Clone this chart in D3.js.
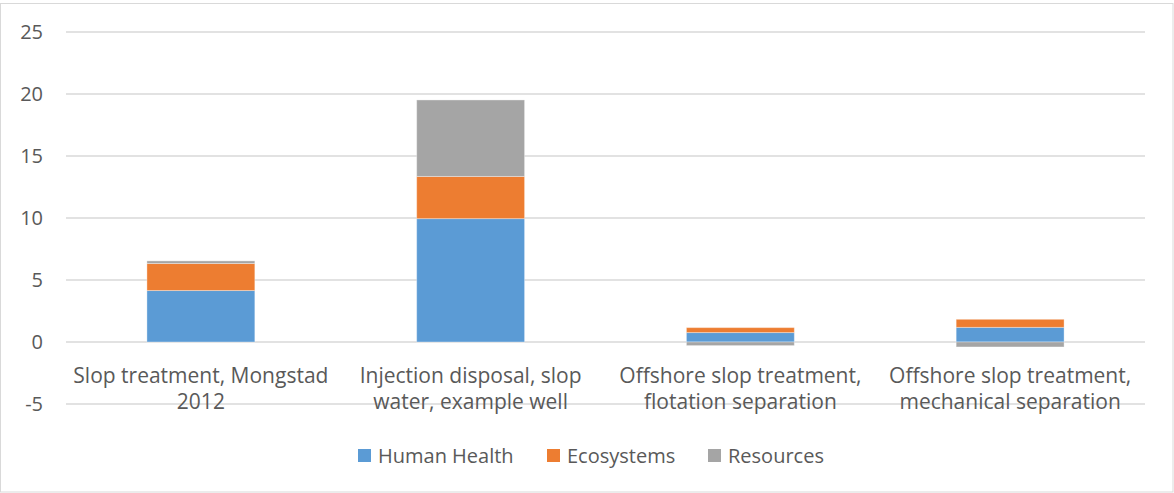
<!DOCTYPE html>
<html>
<head>
<meta charset="utf-8">
<script src="https://cdn.jsdelivr.net/npm/d3@7"></script>
<style>
  html, body { margin: 0; padding: 0; background: #fff; }
  svg { display: block; }
  text { font-family: "Open Sans", "Noto Sans", sans-serif; fill: #595959; }
</style>
</head>
<body>
<div id="chart"></div>
<script>
// Category names (each split into its two display lines)
const categories = [
  "Slop treatment, Mongstad 2012",
  "Injection disposal, slop water, example well",
  "Offshore slop treatment, flotation separation",
  "Offshore slop treatment, mechanical separation"
];
const categoryLines = [
  ["Slop treatment, Mongstad", "2012"],
  ["Injection disposal, slop", "water, example well"],
  ["Offshore slop treatment,", "flotation separation"],
  ["Offshore slop treatment,", "mechanical separation"]
];

// Series values per category
const seriesNames = ["Human Health", "Ecosystems", "Resources"];
const humanHealth = [4.15, 9.95, 0.76, 1.18];
const ecosystems  = [2.18, 3.40, 0.40, 0.65];
const resources   = [0.21, 6.17, -0.29, -0.40];
const seriesColors = ["#5b9bd5", "#ed7d31", "#a5a5a5"];

// Axis ticks
const yTicks = [-5, 0, 5, 10, 15, 20, 25];

const W = 1174, H = 493;
const margin = { left: 66, right: 29, top: 32, bottom: 91 };

const rows = categories.map((c, i) => ({
  category: c,
  "Human Health": humanHealth[i],
  "Ecosystems": ecosystems[i],
  "Resources": resources[i]
}));

const svg = d3.select("#chart").append("svg")
  .attr("width", W).attr("height", H);

// chart frame
svg.append("rect")
  .attr("x", 0.5).attr("y", 3.5)
  .attr("width", W - 1.5).attr("height", H - 4.5)
  .attr("fill", "#fff").attr("stroke", "#d9d9d9").attr("stroke-width", 1);

const x = d3.scaleBand()
  .domain(categories)
  .range([margin.left, W - margin.right])
  .paddingInner(0.6)
  .paddingOuter(0.3);

const y = d3.scaleLinear()
  .domain([-5, 25])
  .range([404, 32]);

// horizontal gridlines
svg.append("g")
  .selectAll("line")
  .data(yTicks)
  .join("line")
  .attr("x1", margin.left).attr("x2", W - margin.right)
  .attr("y1", d => y(d)).attr("y2", d => y(d))
  .attr("stroke", "#d9d9d9").attr("stroke-width", 1.5);

// y tick labels (plain hyphen for negatives)
const yAxis = d3.axisLeft(y).tickValues(yTicks).tickSize(0).tickPadding(23)
  .tickFormat(d => String(d));
const yg = svg.append("g").attr("transform", `translate(${margin.left},0)`).call(yAxis);
yg.select(".domain").remove();
yg.selectAll("text")
  .style("font-family", "\"Open Sans\", \"Noto Sans\", sans-serif")
  .style("font-size", "20px").attr("fill", "#595959");

// stacked bars
const stack = d3.stack().keys(seriesNames).offset(d3.stackOffsetDiverging);
const layers = stack(rows);

svg.append("g")
  .selectAll("g")
  .data(layers)
  .join("g")
  .attr("fill", (d, i) => seriesColors[i])
  .selectAll("rect")
  .data(d => d)
  .join("rect")
  .attr("x", d => x(d.data.category))
  .attr("width", x.bandwidth())
  .attr("y", d => y(Math.max(d[0], d[1])))
  .attr("height", d => Math.abs(y(d[0]) - y(d[1])))
  .attr("stroke", "#ffffff").attr("stroke-opacity", 0.35).attr("stroke-width", 1);

// category labels
const catG = svg.append("g");
categories.forEach((c, i) => {
  const cx = x(c) + x.bandwidth() / 2;
  const t = catG.append("text")
    .attr("text-anchor", "middle")
    .style("font-size", "21px");
  categoryLines[i].forEach((line, j) => {
    t.append("tspan").attr("x", cx).attr("y", 383 + j * 26).text(line);
  });
});

// legend
const legendItems = [
  { name: seriesNames[0], color: seriesColors[0], x: 358 },
  { name: seriesNames[1], color: seriesColors[1], x: 547 },
  { name: seriesNames[2], color: seriesColors[2], x: 708 }
];
const lg = svg.append("g");
legendItems.forEach(it => {
  lg.append("rect").attr("x", it.x).attr("y", 449).attr("width", 13).attr("height", 13)
    .attr("fill", it.color);
  lg.append("text").attr("x", it.x + 20).attr("y", 463)
    .style("font-size", "20px").text(it.name);
});
</script>
</body>
</html>
